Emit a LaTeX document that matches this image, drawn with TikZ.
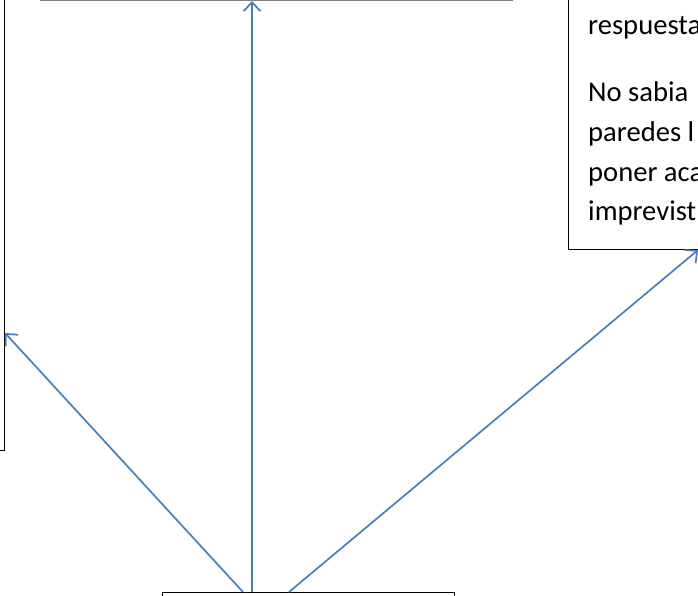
\documentclass[tikz,border=0pt]{standalone}
\usepackage{fontspec}
\setmainfont{Carlito}
\usetikzlibrary{arrows.meta,calc}
\definecolor{arrblue}{HTML}{4A7EBB}
\definecolor{boxgray}{HTML}{7F7F7F}
\tikzset{
  boxshape/.style={draw=black, line width=1pt, fill=none, inner sep=0pt, minimum width=#1},
  boxshape/.default=300pt,
  linktext/.style={font=\fontsize{28.6}{34}\selectfont, inner sep=0pt, anchor=base west},
  arr/.style={draw=arrblue, line width=1.7pt, -{Straight Barb[length=9pt,width=17pt,line width=1.7pt]}}
}
\begin{document}
\begin{tikzpicture}[x=1pt,y=1pt]
\useasboundingbox (0,0) rectangle (698,595);
\clip (0,0) rectangle (698,595);
\fill[white] (0,0) rectangle (698,595);
% boxes
\node[boxshape=300pt, minimum height=600pt, anchor=south east] (leftbox) at (5,144) {};
\node[boxshape=472pt, minimum height=200pt, anchor=south west, draw=boxgray, line width=1.4pt] (topbox) at (40,594) {};
\node[boxshape=300pt, minimum height=400pt, anchor=south west] (rightbox) at (568,345) {};
\node[boxshape=292pt, minimum height=100pt, anchor=north west] (botbox) at (162,3) {};
% text in right box
\node[linktext] (t1) at (588,560) {respuesta};
\node[linktext] (t2) at (588,493) {No sabia};
\node[linktext] (t3) at (588,453) {paredes l};
\node[linktext] (t4) at (588,413) {poner aca};
\node[linktext] (t5) at (588,374) {imprevist};
% connector ends
\coordinate (s1) at ($(botbox.north west)+(81,0)$);
\coordinate (s2) at ($(botbox.north west)+(90,0)$);
\coordinate (s3) at ($(botbox.north west)+(127,0)$);
\coordinate (e1) at ($(leftbox.south east)+(0,118)$);
\coordinate (e2) at (s2 |- topbox.south);
\coordinate (e3) at ($(rightbox.south west)+(130,0)$);
\draw[arr] (s1) -- (e1);
\draw[arr] (s2) -- (e2);
\draw[arr] (s3) -- (e3);
\end{tikzpicture}
\end{document}
